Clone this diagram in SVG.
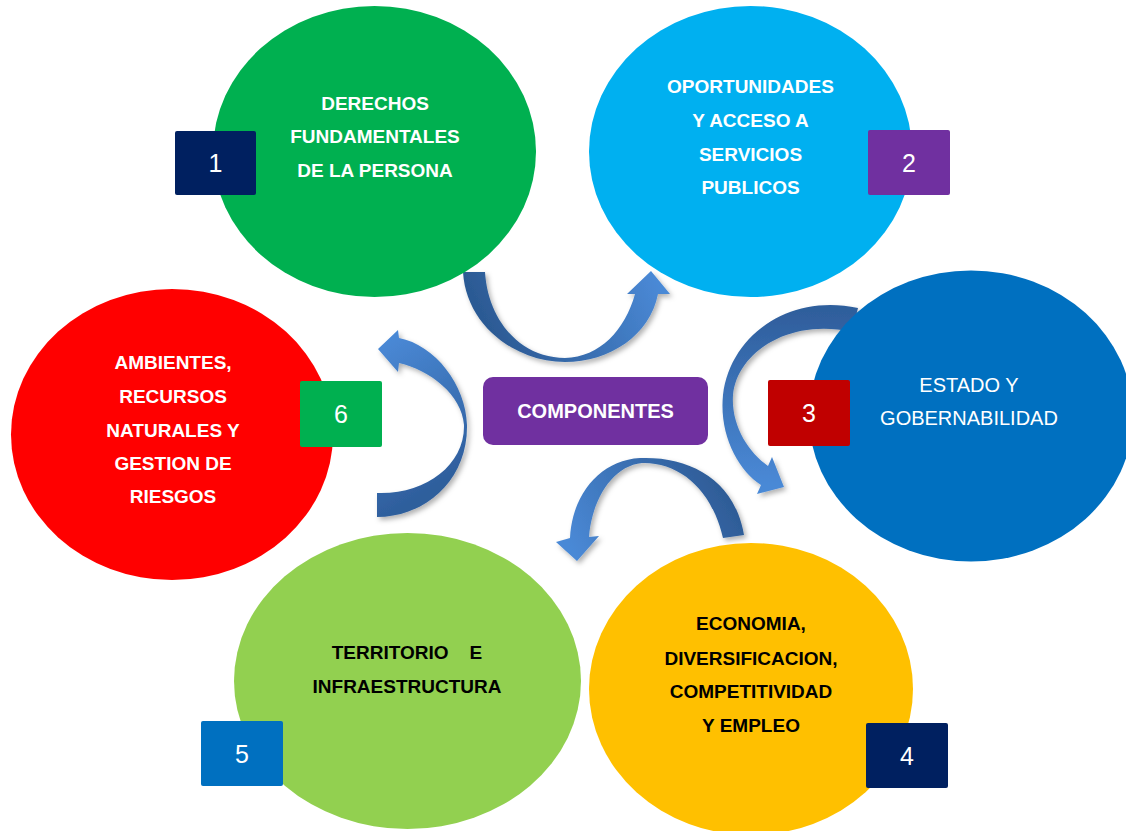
<svg xmlns="http://www.w3.org/2000/svg" width="1126" height="831" viewBox="0 0 1126 831">
  <style>
    .lbl { font-family: "Liberation Sans", Arial, sans-serif; font-size: 19px; font-weight: bold; text-anchor: middle; }
    .w { fill: #FFFFFF; }
    .k { fill: #000000; }
    .reg { font-family: "Liberation Sans", Arial, sans-serif; font-size: 20px; font-weight: normal; text-anchor: middle; fill: #FFFFFF; }
    .num { font-family: "Liberation Sans", Arial, sans-serif; font-size: 25px; text-anchor: middle; fill: #FFFFFF; }
    .arrow { filter: url(#shadow); }
  </style>
  <defs>
    <filter id="shadow" x="-20%" y="-20%" width="140%" height="140%">
      <feDropShadow dx="2.5" dy="3" stdDeviation="2.5" flood-color="#000000" flood-opacity="0.3"/>
    </filter>
    <linearGradient id="gA" gradientUnits="userSpaceOnUse" x1="500" y1="350" x2="655" y2="275">
      <stop offset="0" stop-color="#2C5A94"/>
      <stop offset="1" stop-color="#4A89D6"/>
    </linearGradient>
    <linearGradient id="gB" gradientUnits="userSpaceOnUse" x1="780" y1="310" x2="775" y2="485">
      <stop offset="0" stop-color="#2F5E9C"/>
      <stop offset="1" stop-color="#4A89D6"/>
    </linearGradient>
    <linearGradient id="gC" gradientUnits="userSpaceOnUse" x1="720" y1="470" x2="575" y2="555">
      <stop offset="0" stop-color="#2D5A94"/>
      <stop offset="1" stop-color="#4A89D6"/>
    </linearGradient>
    <linearGradient id="gD" gradientUnits="userSpaceOnUse" x1="385" y1="340" x2="465" y2="470">
      <stop offset="0" stop-color="#4A89D6"/>
      <stop offset="1" stop-color="#2E5E9C"/>
    </linearGradient>
  </defs>

  <rect x="0" y="0" width="1126" height="831" fill="#FFFFFF"/>

  <g id="connectors">
    <path class="arrow" fill="url(#gA)" d="M463,272 C466,325 515,362 565,362 C610,362 650,335 658,294 L670,294 L651,271 L627,294 L635,294 C625,330 600,357 565,358 C520,358 488,320 485,272 Z"/>
    <path class="arrow" fill="url(#gB)" d="M858,308 C790,293 730,335 723,395 C719,435 738,470 761,485 L757,494 L784,487 L772,457 L768,466 C748,452 731,425 733,395 C737,352 790,318 852,332 Z"/>
    <path class="arrow" fill="url(#gC)" d="M744,535 C735,480 690,456 640,458 C600,460 572,495 570,538 L556,542 L577,561 L599,536 L589,537 C592,500 612,466 642,463 C680,462 712,490 723,538 Z"/>
    <path class="arrow" fill="url(#gD)" d="M377,517 C425,517 468,480 467,425 C466,385 435,345 399,338 L398,330 L378,349 L398,372 L399,363 C430,370 462,395 464,425 C465,465 425,495 377,493 Z"/>
  </g>

  <g id="node1">
    <ellipse cx="374.5" cy="151.5" rx="161.5" ry="145.5" fill="#00B050"/>
    <text class="lbl w"><tspan x="375" y="110">DERECHOS</tspan><tspan x="375" y="143">FUNDAMENTALES</tspan><tspan x="375" y="177">DE LA PERSONA</tspan></text>
    <rect x="175" y="131" width="81" height="64" rx="2" fill="#002060"/>
    <text class="num" x="215.5" y="172">1</text>
  </g>

  <g id="node2">
    <ellipse cx="750.5" cy="151.5" rx="161.5" ry="145.5" fill="#00B0F0"/>
    <text class="lbl w"><tspan x="750.5" y="93">OPORTUNIDADES</tspan><tspan x="750.5" y="127">Y ACCESO A</tspan><tspan x="750.5" y="161">SERVICIOS</tspan><tspan x="750.5" y="194">PUBLICOS</tspan></text>
    <rect x="868" y="130" width="82" height="65" rx="2" fill="#7030A0"/>
    <text class="num" x="909" y="172">2</text>
  </g>

  <g id="node3">
    <ellipse cx="971" cy="416" rx="162" ry="145.5" fill="#0070C0"/>
    <text class="reg"><tspan x="969" y="392">ESTADO Y</tspan><tspan x="969" y="425">GOBERNABILIDAD</tspan></text>
    <rect x="768" y="380" width="82" height="66" rx="2" fill="#C00000"/>
    <text class="num" x="809" y="422">3</text>
  </g>

  <g id="node4">
    <ellipse cx="751" cy="689" rx="162" ry="146" fill="#FFC000"/>
    <text class="lbl k"><tspan x="751" y="630">ECONOMIA,</tspan><tspan x="751" y="665">DIVERSIFICACION,</tspan><tspan x="751" y="698">COMPETITIVIDAD</tspan><tspan x="751" y="732">Y EMPLEO</tspan></text>
    <rect x="866" y="723" width="82" height="65" rx="2" fill="#002060"/>
    <text class="num" x="907" y="765">4</text>
  </g>

  <g id="node5">
    <ellipse cx="407.5" cy="681" rx="173.5" ry="148" fill="#92D050"/>
    <text class="lbl k"><tspan x="407" y="659" xml:space="preserve">TERRITORIO    E</tspan><tspan x="407" y="693">INFRAESTRUCTURA</tspan></text>
    <rect x="201" y="721" width="82" height="65" rx="2" fill="#0070C0"/>
    <text class="num" x="242" y="763">5</text>
  </g>

  <g id="node6">
    <ellipse cx="172" cy="434.5" rx="161" ry="145.5" fill="#FF0000"/>
    <text class="lbl w"><tspan x="173" y="369">AMBIENTES,</tspan><tspan x="173" y="403">RECURSOS</tspan><tspan x="173" y="437">NATURALES Y</tspan><tspan x="173" y="470">GESTION DE</tspan><tspan x="173" y="503">RIESGOS</tspan></text>
    <rect x="300" y="381" width="82" height="66" rx="2" fill="#00B050"/>
    <text class="num" x="341" y="423">6</text>
  </g>

  <g id="center">
    <rect x="483" y="377" width="225" height="68" rx="10" fill="#7030A0"/>
    <text class="lbl w" x="595.5" y="418" style="font-size:20px">COMPONENTES</text>
  </g>
</svg>
